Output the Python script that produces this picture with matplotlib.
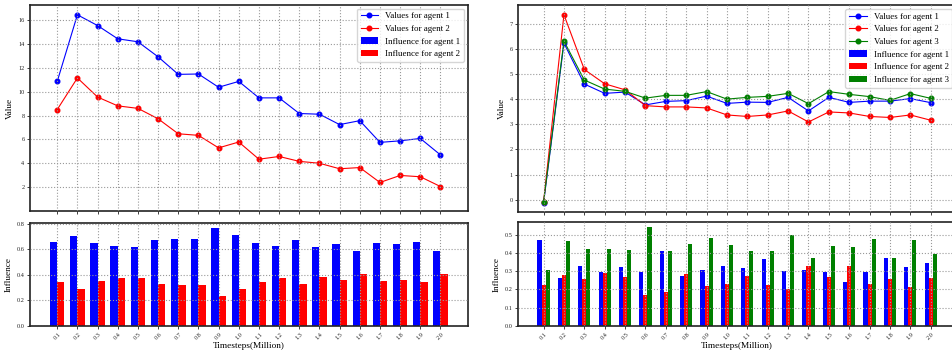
import matplotlib
matplotlib.use("Agg")
import matplotlib.pyplot as plt
import numpy as np

plt.rcParams['font.family'] = ['Liberation Serif', 'DejaVu Serif']

timesteps = ["0.1", "0.2", "0.3", "0.4", "0.5", "0.6", "0.7", "0.8", "0.9", "1.0",
             "1.1", "1.2", "1.3", "1.4", "1.5", "1.6", "1.7", "1.8", "1.9", "2.0"]

# Left: two agents
left_values_a1 = [10.86, 16.44, 15.54, 14.43, 14.18, 12.92, 11.45, 11.48, 10.37, 10.86,
                  9.48, 9.48, 8.17, 8.11, 7.24, 7.57, 5.75, 5.88, 6.08, 4.70]
left_values_a2 = [8.50, 11.15, 9.55, 8.81, 8.60, 7.73, 6.47, 6.34, 5.29, 5.78,
                  4.34, 4.57, 4.16, 4.00, 3.54, 3.64, 2.39, 2.98, 2.87, 2.05]
left_infl_a1 = [0.657, 0.708, 0.649, 0.625, 0.620, 0.673, 0.680, 0.680, 0.767, 0.712,
                0.653, 0.625, 0.673, 0.618, 0.641, 0.590, 0.649, 0.641, 0.657, 0.590]
left_infl_a2 = [0.343, 0.292, 0.351, 0.375, 0.380, 0.327, 0.320, 0.320, 0.233, 0.288,
                0.347, 0.375, 0.327, 0.382, 0.359, 0.410, 0.351, 0.359, 0.343, 0.410]

# Right: three agents
right_values_a1 = [-0.13, 6.23, 4.60, 4.23, 4.28, 3.77, 3.91, 3.94, 4.12, 3.83,
                   3.88, 3.87, 4.07, 3.53, 4.07, 3.87, 3.92, 3.92, 4.02, 3.86]
right_values_a2 = [-0.09, 7.36, 5.18, 4.61, 4.37, 3.74, 3.69, 3.69, 3.65, 3.37,
                   3.31, 3.37, 3.53, 3.09, 3.49, 3.45, 3.31, 3.27, 3.37, 3.16]
right_values_a3 = [-0.09, 6.31, 4.76, 4.40, 4.31, 4.04, 4.15, 4.15, 4.30, 4.00,
                   4.07, 4.11, 4.23, 3.82, 4.30, 4.19, 4.10, 3.95, 4.22, 4.03]
right_infl_a1 = [0.469, 0.262, 0.327, 0.295, 0.322, 0.295, 0.409, 0.273, 0.305, 0.327,
                 0.316, 0.365, 0.298, 0.305, 0.295, 0.240, 0.295, 0.371, 0.322, 0.344]
right_infl_a2 = [0.224, 0.278, 0.256, 0.289, 0.267, 0.169, 0.185, 0.284, 0.218, 0.229,
                 0.273, 0.224, 0.202, 0.327, 0.267, 0.327, 0.229, 0.256, 0.213, 0.262]
right_infl_a3 = [0.305, 0.464, 0.420, 0.420, 0.415, 0.540, 0.409, 0.447, 0.480, 0.442,
                 0.409, 0.409, 0.500, 0.371, 0.436, 0.431, 0.475, 0.371, 0.469, 0.393]

W, H = 953, 354
fig = plt.figure(figsize=(W / 100, H / 100), dpi=100)

def rect(x0, y0, x1, y1):
    return [x0 / W, 1 - y1 / H, (x1 - x0) / W, (y1 - y0) / H]

axL1 = fig.add_axes(rect(30, 5, 467.7, 211))
axL2 = fig.add_axes(rect(30, 223.3, 467.7, 326), sharex=axL1)
axR1 = fig.add_axes(rect(518.3, 5.3, 956, 212.3))
axR2 = fig.add_axes(rect(518.3, 222.3, 956, 326), sharex=axR1)

x = np.arange(len(timesteps))
lab_fs = 6.7
tick_fs = 4.5
leg_fs = 6.4

def style(ax):
    ax.grid(True, linestyle=':', color='#999999', linewidth=0.8)
    ax.set_axisbelow(False)
    for s in ax.spines.values():
        s.set_linewidth(1.2)
        s.set_color('#222222')
    ax.tick_params(labelsize=tick_fs, length=2, width=0.6, pad=2, colors='#222222')

lkw = dict(marker='o', markersize=3.3, linewidth=0.8)

# Left top
axL1.plot(x, left_values_a1, color='blue', label='Values for agent 1', **lkw)
axL1.plot(x, left_values_a2, color='red', label='Values for agent 2', **lkw)
axL1.bar([0], [0], color='blue', label='Influence for agent 1')
axL1.bar([0], [0], color='red', label='Influence for agent 2')
axL1.set_ylabel('Value', fontsize=lab_fs, labelpad=3)
axL1.set_yticks([2, 4, 6, 8, 10, 12, 14, 16])
style(axL1)
axL1.tick_params(axis='x', labelbottom=False)
axL1.legend(loc='upper right', fontsize=leg_fs, borderaxespad=0.4)

# Left bottom
bw = 0.36
axL2.bar(x - bw / 2, left_infl_a1, width=bw, color='blue')
axL2.bar(x + bw / 2, left_infl_a2, width=bw, color='red')
axL2.set_ylabel('Influence', fontsize=lab_fs, labelpad=3)
axL2.set_xlabel('Timesteps(Million)', fontsize=lab_fs, labelpad=1)
axL2.set_yticks([0.0, 0.2, 0.4, 0.6, 0.8])
style(axL2)
axL2.set_xticks(x)
axL2.set_xticklabels(timesteps, rotation=45)
axL2.set_xlim(-1.35, 20.35)
axL1.set_xlim(-1.35, 20.35)

# Right top
axR1.plot(x, right_values_a1, color='blue', label='Values for agent 1', **lkw)
axR1.plot(x, right_values_a2, color='red', label='Values for agent 2', **lkw)
axR1.plot(x, right_values_a3, color='green', label='Values for agent 3', **lkw)
axR1.bar([0], [0], color='blue', label='Influence for agent 1')
axR1.bar([0], [0], color='red', label='Influence for agent 2')
axR1.bar([0], [0], color='green', label='Influence for agent 3')
axR1.set_ylabel('Value', fontsize=lab_fs, labelpad=3)
axR1.set_yticks([0, 1, 2, 3, 4, 5, 6, 7])
style(axR1)
axR1.tick_params(axis='x', labelbottom=False)
axR1.legend(loc='upper right', fontsize=leg_fs, borderaxespad=0.4)

# Right bottom
bw3 = 0.2
axR2.bar(x - bw3, right_infl_a1, width=bw3, color='blue')
axR2.bar(x, right_infl_a2, width=bw3, color='red')
axR2.bar(x + bw3, right_infl_a3, width=bw3, color='green')
axR2.set_ylabel('Influence', fontsize=lab_fs, labelpad=3)
axR2.set_xlabel('Timesteps(Million)', fontsize=lab_fs, labelpad=1)
axR2.set_yticks([0.0, 0.1, 0.2, 0.3, 0.4, 0.5])
style(axR2)
axR2.set_xticks(x)
axR2.set_xticklabels(timesteps, rotation=45)
axR2.set_xlim(-1.24, 20.24)
axR1.set_xlim(-1.24, 20.24)

fig.savefig('out.png', dpi=100)
